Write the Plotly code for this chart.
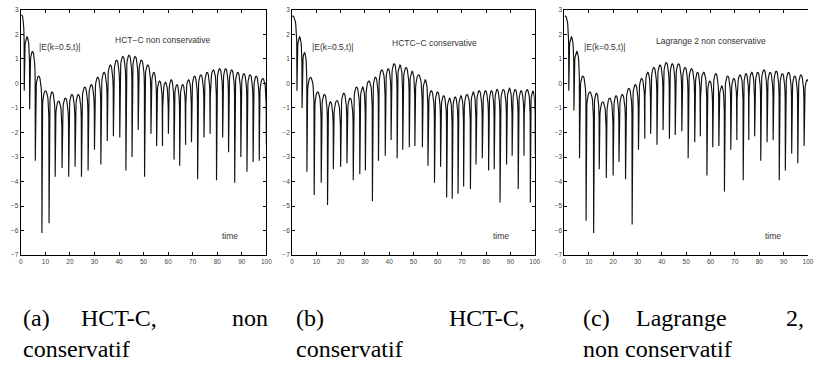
import plotly.graph_objects as go

# ---------------- data ----------------
# times of the sharp minima (zeros of E) for each run
trough_t_a = [1.4, 3.6, 5.9, 8.6, 11.5, 14.0, 16.8, 19.5, 22.1, 24.7, 27.4, 30.0, 32.6,
              35.2, 37.7, 40.3, 42.8, 45.3, 47.8, 50.4, 53.0, 55.3, 57.7, 60.1, 62.4,
              64.7, 67.1, 69.5, 72.0, 74.6, 77.1, 79.7, 82.2, 84.6, 87.1, 89.6, 92.1,
              94.6, 97.1]
trough_t_b = [2.0, 4.1, 6.1, 9.1, 12.0, 14.6, 17.0, 20.0, 22.6, 25.2, 27.9, 30.2, 33.1,
              35.6, 38.4, 40.8, 43.3, 45.6, 48.3, 50.6, 53.7, 56.0, 58.7, 61.2, 63.7,
              66.0, 68.4, 70.7, 73.5, 75.8, 78.4, 81.0, 83.3, 85.7, 88.4, 90.7, 93.2,
              95.6, 98.2]
trough_t_c = [1.8, 3.9, 6.2, 8.9, 12.0, 14.3, 17.2, 20.0, 22.4, 25.1, 27.8, 30.4, 33.0,
              35.4, 38.0, 40.5, 43.1, 45.5, 48.2, 50.8, 53.5, 55.8, 58.5, 60.9, 63.4,
              65.7, 68.3, 70.8, 73.4, 75.7, 78.1, 80.6, 83.2, 85.7, 88.2, 90.7, 93.3,
              95.8, 98.4]

# log10 |E| at the minima
trough_v_a = [-0.3, -1.05, -3.15, -6.1, -5.7, -3.8, -3.45, -3.8, -3.4, -3.8, -3.55, -2.7,
              -3.3, -2.35, -2.15, -2.2, -3.55, -3.0, -1.9, -3.8, -2.05, -2.55, -2.55, -2.05,
              -3.1, -3.35, -2.5, -2.4, -3.9, -2.2, -2.05, -3.95, -2.2, -2.8, -4.05, -3.0,
              -3.6, -3.2, -3.15]
trough_v_b = [-0.3, -1.0, -3.6, -4.55, -4.05, -4.95, -3.5, -3.4, -3.25, -3.95, -3.7, -3.55,
              -4.8, -3.15, -2.95, -2.3, -3.05, -2.7, -2.6, -2.55, -2.6, -3.35, -4.05, -3.4,
              -4.65, -4.7, -4.5, -4.2, -4.3, -3.3, -3.05, -3.55, -3.5, -4.85, -3.3, -2.95,
              -4.3, -2.95, -4.85]
trough_v_c = [-0.3, -1.1, -3.05, -5.6, -6.1, -3.5, -3.85, -3.75, -3.2, -3.9, -5.75, -2.7,
              -2.25, -2.05, -2.5, -1.9, -2.25, -2.1, -1.95, -3.05, -2.4, -2.15, -3.75, -2.6,
              -2.55, -4.4, -2.7, -2.3, -3.95, -2.3, -2.15, -3.15, -2.4, -2.3, -3.95, -3.55,
              -2.85, -3.25, -2.55]

# log10 |E| at the maxima (one arch before, between and after the minima)
peak_v_a = [2.8, 1.9, 1.3, 0.3, -0.3, -0.35, -0.72, -0.6, -0.45, -0.45, -0.15, -0.05, 0.25,
            0.45, 0.75, 0.95, 1.1, 1.15, 1.1, 0.95, 0.75, 0.45, 0.1, 0.05, 0.15, -0.05,
            -0.05, 0.15, 0.3, 0.35, 0.45, 0.55, 0.6, 0.6, 0.55, 0.45, 0.4, 0.35, 0.3, 0.2]
peak_v_b = [2.75, 1.9, 1.25, 0.25, -0.35, -0.45, -0.75, -0.7, -0.4, -0.6, -0.15, -0.15, 0.1,
            0.25, 0.55, 0.6, 0.8, 0.75, 0.65, 0.5, 0.35, 0.15, -0.3, -0.35, -0.5, -0.6,
            -0.55, -0.5, -0.45, -0.35, -0.3, -0.3, -0.3, -0.25, -0.25, -0.2, -0.25, -0.3,
            -0.25, -0.3]
peak_v_c = [2.75, 1.9, 1.3, 0.3, -0.35, -0.4, -0.75, -0.6, -0.5, -0.45, -0.2, -0.05, 0.2,
            0.45, 0.65, 0.75, 0.85, 0.8, 0.8, 0.65, 0.6, 0.45, 0.45, 0.1, 0.4, -0.1, 0.3,
            0.2, 0.35, 0.4, 0.45, 0.45, 0.55, 0.45, 0.5, 0.4, 0.45, 0.3, 0.35, 0.15]

first_peak_t = [0.35, 0.35, 0.4]
end_t = [100.0, 100.2, 101.0]
end_v = [-2.5, -2.9, -2.0]

panel_titles = ["HCT\u2212C non conservative", "HCTC\u2212C conservative",
                "Lagrange 2 non conservative"]
ylabel_text = "|E(k=0.5,t)|"
xlabel_text = "time"
captions = [
    [("(a)", 19, "left"), ("HCT-C,", 78, "left"), ("non", 271, "right")],
    [("(b)", 295, "left"), ("HCT-C,", 530, "right")],
    [("(c)", 585, "left"), ("Lagrange", 638, "left"), ("2,", 812, "right")],
]
captions2 = [("conservatif", 19), ("conservatif", 295), ("non conservatif", 585)]

xticks = [0, 10, 20, 30, 40, 50, 60, 70, 80, 90, 100]
yticks = [-7, -6, -5, -4, -3, -2, -1, 0, 1, 2, 3]

# shape of one |sin|-like arch on a log scale (fraction of arch, offset from top)
ARCH_U = [0.03, 0.06, 0.1, 0.15, 0.2, 0.3, 0.4, 0.5, 0.6, 0.7, 0.8, 0.85, 0.9, 0.94, 0.97]
ARCH_DY = [-1.03, -0.73, -0.51, -0.35, -0.23, -0.09, -0.02, 0.0, -0.02, -0.09, -0.23,
           -0.35, -0.51, -0.73, -1.03]


def build_curve(tt, tv, pv, p0, te, ve):
    bt = [p0 - (tt[0] - p0)] + list(tt) + [te]
    bv = [None] + list(tv) + [ve]
    xs, ys = [], []
    for k in range(len(pv)):
        a, b = bt[k], bt[k + 1]
        if k > 0:
            xs.append(a)
            ys.append(bv[k])
        for u, dy in zip(ARCH_U, ARCH_DY):
            t = a + u * (b - a)
            if t < 0:
                continue
            lo = bv[k] if u < 0.5 else bv[k + 1]
            v = pv[k] + dy
            if lo is not None:
                v = max(v, lo)
            xs.append(t)
            ys.append(v)
    xs.append(bt[-1])
    ys.append(bv[-1])
    return xs, ys


series = [
    (trough_t_a, trough_v_a, peak_v_a),
    (trough_t_b, trough_v_b, peak_v_b),
    (trough_t_c, trough_v_c, peak_v_c),
]

W, H = 814, 371
xdom = [(19 / W, 267 / W), (293 / W, 538 / W), (568 / W, 1.0)]
ydom = (1 - 256 / H, 1 - 6 / H)

fig = go.Figure()
for i, (tt, tv, pv) in enumerate(series):
    xs, ys = build_curve(tt, tv, pv, first_peak_t[i], end_t[i], end_v[i])
    fig.add_trace(go.Scatter(
        x=xs, y=ys, mode="lines",
        line=dict(color="#111", width=1.15),
        xaxis="x" if i == 0 else f"x{i+1}",
        yaxis="y" if i == 0 else f"y{i+1}",
        showlegend=False, hoverinfo="skip"))

tickfont = dict(family="Liberation Sans, Arial, sans-serif", size=6.5, color="#444")
for i in range(3):
    sfx = "" if i == 0 else str(i + 1)
    fig.layout["xaxis" + sfx] = dict(
        domain=list(xdom[i]), range=[0, 100], anchor="y" + sfx,
        tickvals=xticks, ticks="inside", ticklen=3, tickcolor="black",
        showline=True, linecolor="black", linewidth=1, mirror="ticks",
        showgrid=False, zeroline=False, tickfont=tickfont, fixedrange=True)
    fig.layout["yaxis" + sfx] = dict(
        domain=list(ydom), range=[-7, 3], anchor="x" + sfx,
        tickvals=yticks, ticks="inside", ticklen=3, tickcolor="black",
        showline=True, linecolor="black", linewidth=1,
        mirror="ticks" if i < 2 else False,
        showgrid=False, zeroline=False, tickfont=tickfont, fixedrange=True)

ann = []
afont = dict(family="Liberation Sans, Arial, sans-serif", size=8.5, color="#333")
label_pos = [(16.0, 1.5), (16.7, 1.5), (16.6, 1.47)]
title_pos = [(57.6, 1.76), (58.6, 1.63), (60.2, 1.75)]
time_pos = [(85.0, -6.2), (86.0, -6.2), (85.5, -6.2)]
for i in range(3):
    sfx = "" if i == 0 else str(i + 1)
    ann.append(dict(x=label_pos[i][0], y=label_pos[i][1], xref="x" + sfx, yref="y" + sfx,
                    text=ylabel_text, showarrow=False, font=afont))
    ann.append(dict(x=title_pos[i][0], y=title_pos[i][1], xref="x" + sfx, yref="y" + sfx,
                    text=panel_titles[i], showarrow=False, font=afont))
    ann.append(dict(x=time_pos[i][0], y=time_pos[i][1], xref="x" + sfx, yref="y" + sfx,
                    text=xlabel_text, showarrow=False, font=afont))

cfont = dict(family="Liberation Serif, Times New Roman, serif", size=24, color="black")
for row in captions:
    for txt, px, anc in row:
        ann.append(dict(x=px / W, y=1 - 320 / H, xref="paper", yref="paper", text=txt,
                        showarrow=False, xanchor=anc, yanchor="middle", font=cfont))
for txt, px in captions2:
    ann.append(dict(x=px / W, y=1 - 352 / H, xref="paper", yref="paper", text=txt,
                    showarrow=False, xanchor="left", yanchor="middle", font=cfont))

fig.update_layout(
    width=W, height=H, margin=dict(l=0, r=0, t=0, b=0),
    paper_bgcolor="white", plot_bgcolor="white", annotations=ann)

fig.write_html("out.html", config={"displayModeBar": False})
